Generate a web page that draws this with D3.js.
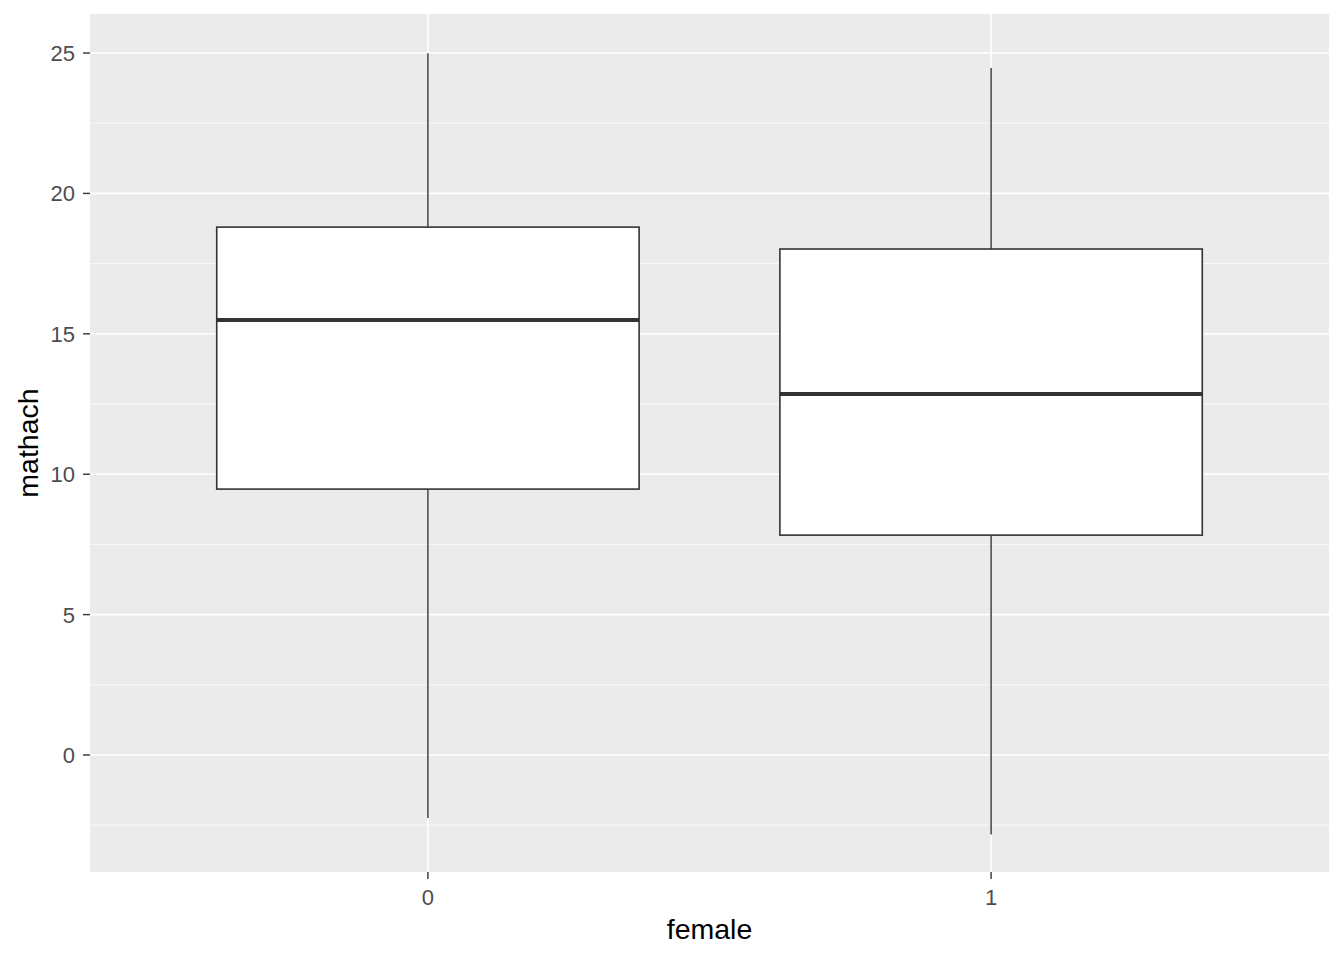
<!DOCTYPE html>
<html><head><meta charset="utf-8">
<script src="https://cdn.jsdelivr.net/npm/d3@7"></script>
<style>body{margin:0;background:#fff;} svg{display:block;}</style>
</head><body>
<svg id="chart" width="1344" height="960"></svg>
<script>
const categories = ["0", "1"];
const lowerWhisker = [-2.24, -2.83];
const q1 = [9.47, 7.83];
const median = [15.49, 12.86];
const q3 = [18.80, 18.02];
const upperWhisker = [24.99, 24.47];
const yTicks = [0, 5, 10, 15, 20, 25];
const yMinorTicks = [-2.5, 2.5, 7.5, 12.5, 17.5, 22.5];

const panel = {left: 90, right: 1329, top: 14, bottom: 872};
const svg = d3.select("#chart");
const font = "Arial, 'Liberation Sans', sans-serif";

const y = d3.scaleLinear().domain([-4.167, 26.39]).range([panel.bottom, panel.top]);
const xi = d3.scaleLinear().domain([0.4, categories.length + 0.6]).range([panel.left, panel.right]);
const x = c => xi(categories.indexOf(c) + 1);
const halfW = (xi(1.375) - xi(1));

svg.append("rect").attr("x", panel.left).attr("y", panel.top)
  .attr("width", panel.right - panel.left).attr("height", panel.bottom - panel.top)
  .attr("fill", "#EBEBEB");

const grid = svg.append("g");
yMinorTicks.forEach(t => grid.append("line").attr("x1", panel.left).attr("x2", panel.right)
  .attr("y1", y(t)).attr("y2", y(t)).attr("stroke", "#fff").attr("stroke-width", 0.8));
yTicks.forEach(t => grid.append("line").attr("x1", panel.left).attr("x2", panel.right)
  .attr("y1", y(t)).attr("y2", y(t)).attr("stroke", "#fff").attr("stroke-width", 1.6));
categories.forEach(c => grid.append("line").attr("y1", panel.top).attr("y2", panel.bottom)
  .attr("x1", x(c)).attr("x2", x(c)).attr("stroke", "#fff").attr("stroke-width", 1.6));

const boxes = svg.append("g");
categories.forEach((c, i) => {
  const cx = x(c);
  boxes.append("line").attr("x1", cx).attr("x2", cx).attr("y1", y(upperWhisker[i])).attr("y2", y(q3[i]))
    .attr("stroke", "#333").attr("stroke-width", 1.4);
  boxes.append("line").attr("x1", cx).attr("x2", cx).attr("y1", y(q1[i])).attr("y2", y(lowerWhisker[i]))
    .attr("stroke", "#333").attr("stroke-width", 1.4);
  boxes.append("rect").attr("x", cx - halfW).attr("width", 2 * halfW)
    .attr("y", y(q3[i])).attr("height", y(q1[i]) - y(q3[i]))
    .attr("fill", "#fff").attr("stroke", "#333").attr("stroke-width", 1.6);
  boxes.append("line").attr("x1", cx - halfW).attr("x2", cx + halfW)
    .attr("y1", y(median[i])).attr("y2", y(median[i]))
    .attr("stroke", "#333").attr("stroke-width", 4);
});

const yAxis = svg.append("g");
yTicks.forEach(t => {
  yAxis.append("line").attr("x1", panel.left - 7).attr("x2", panel.left).attr("y1", y(t)).attr("y2", y(t))
    .attr("stroke", "#333").attr("stroke-width", 1.4);
  yAxis.append("text").attr("x", panel.left - 15).attr("y", y(t)).attr("dy", "0.36em")
    .attr("text-anchor", "end").attr("font-family", font).attr("font-size", 22).attr("fill", "#4D4D4D").text(t);
});
const xAxis = svg.append("g");
categories.forEach(c => {
  xAxis.append("line").attr("x1", x(c)).attr("x2", x(c)).attr("y1", panel.bottom).attr("y2", panel.bottom + 7)
    .attr("stroke", "#333").attr("stroke-width", 1.4);
  xAxis.append("text").attr("x", x(c)).attr("y", 905)
    .attr("text-anchor", "middle").attr("font-family", font).attr("font-size", 22).attr("fill", "#4D4D4D").text(c);
});

svg.append("text").attr("x", (panel.left + panel.right) / 2).attr("y", 939)
  .attr("text-anchor", "middle").attr("font-family", font).attr("font-size", 28.5).attr("fill", "#000").text("female");
svg.append("text").attr("transform", `translate(38,${(panel.top + panel.bottom) / 2}) rotate(-90)`)
  .attr("text-anchor", "middle").attr("font-family", font).attr("font-size", 28.5).attr("fill", "#000").text("mathach");
</script>
</body></html>
